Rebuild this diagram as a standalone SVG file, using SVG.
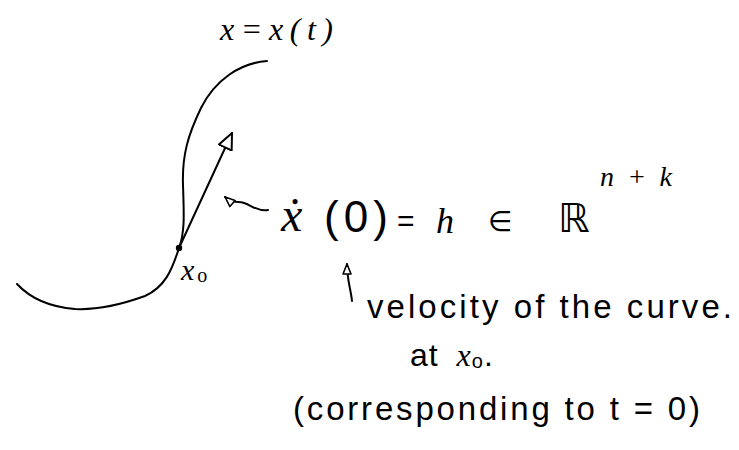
<svg xmlns="http://www.w3.org/2000/svg" width="739" height="450" viewBox="0 0 739 450">
  <defs>
    <style>
      .ink { fill: none; stroke: #000; stroke-width: 2; stroke-linecap: round; stroke-linejoin: round; }
      .txt { font-family: "Liberation Sans", "DejaVu Sans", sans-serif; fill: #000; }
      .math { font-family: "Liberation Serif", "DejaVu Serif", serif; font-style: italic; fill: #000; }
    </style>
    <marker id="openHead" viewBox="0 0 18 16" refX="17" refY="8" markerWidth="18" markerHeight="16" markerUnits="userSpaceOnUse" orient="auto">
      <path d="M1,1 L17,8 L1,15 Z" fill="#fff" stroke="#000" stroke-width="2" stroke-linejoin="round"/>
    </marker>
    <marker id="smallHead" viewBox="0 0 12 10" refX="11" refY="5" markerWidth="12" markerHeight="10" markerUnits="userSpaceOnUse" orient="auto">
      <path d="M1,1 L11,5 L1,9 Z" fill="#fff" stroke="#000" stroke-width="1.6" stroke-linejoin="round"/>
    </marker>
  </defs>
  <rect width="739" height="450" fill="#fff"/>

  <g id="curve">
    <path class="ink" d="M267,61 C240,63 215,80 201,108 C188,135 182,155 183,185 C184,215 185,232 179,248 C172,270 165,287 145,296 C120,305 95,310 75,309 C50,307 30,298 17,284"/>
    <circle cx="179" cy="248" r="3.2" fill="#000"/>
  </g>

  <g id="label-curve">
    <text class="math" x="220" y="40" font-size="32" textLength="113" lengthAdjust="spacing">x=x(t)</text>
  </g>

  <g id="label-x0">
    <text class="math" x="181" y="280" font-size="30">x<tspan font-size="20" dy="2" font-style="normal" dx="3">o</tspan></text>
  </g>

  <g id="equation">
    <text class="math" x="281" y="231" font-size="48">ẋ</text>
    <text class="txt" x="324" y="232" font-size="44" textLength="64" lengthAdjust="spacing">(0)</text>
    <text class="txt" x="397" y="231" font-size="30">=</text>
    <text class="math" x="436" y="233" font-size="36">h</text>
    <text class="txt" x="488" y="231" font-size="28">∈</text>
    <text class="txt" x="558" y="232" font-size="40">ℝ</text>
    <text class="math" x="600" y="186" font-size="28" textLength="72" lengthAdjust="spacing">n+k</text>
  </g>

  <g id="note">
    <text class="txt" x="367" y="318" font-size="33" textLength="365" lengthAdjust="spacing">velocity of the curve.</text>
    <text class="txt" x="410" y="366" font-size="32" letter-spacing="1">at <tspan class="math" dx="8">x</tspan><tspan font-size="20" dy="2">o</tspan><tspan dy="-2">.</tspan></text>
    <text class="txt" x="293" y="420" font-size="33" textLength="407" lengthAdjust="spacing">(corresponding to t = 0)</text>
  </g>

  <g id="connectors">
    <path class="ink" d="M179,248 L232,133" marker-end="url(#openHead)"/>
    <path class="ink" d="M268,210 C258,212 251,205 244,203 C237,201 233,204 225,197" marker-end="url(#smallHead)"/>
    <path class="ink" d="M352,301 C351,290 347,280 347,264" marker-end="url(#smallHead)"/>
  </g>
</svg>
